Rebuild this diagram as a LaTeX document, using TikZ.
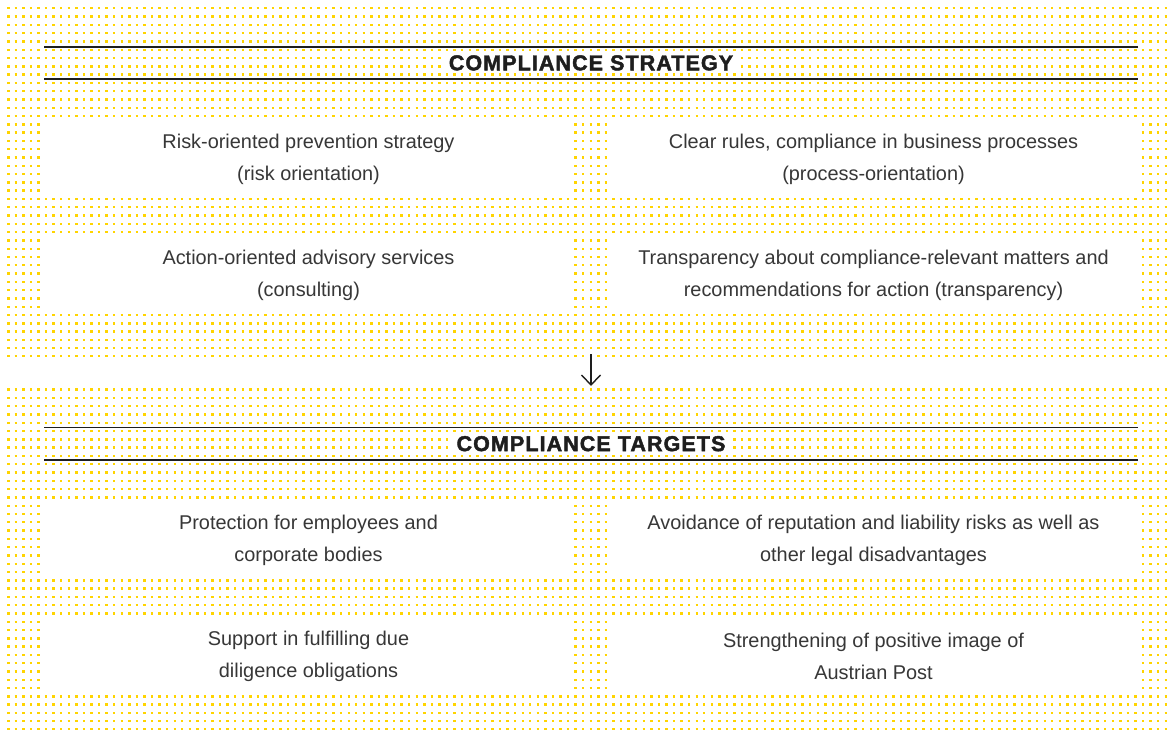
\documentclass[tikz,border=0pt]{standalone}
\usepackage{fontspec}
\setmainfont{Liberation Sans}
\newfontfamily\titlefont[FakeBold=2,LetterSpace=5]{Liberation Sans Bold}
\usetikzlibrary{arrows.meta}
\definecolor{dotyellow}{RGB}{255,212,0}
\definecolor{txt}{RGB}{55,55,55}
\definecolor{rulecol}{RGB}{30,30,30}
\tikzset{
  dotrow/.style={draw=dotyellow, line width=2.4pt, dash pattern=on 2.4pt off 5.165pt},
  cell/.style={fill=white, minimum width=529pt, minimum height=75pt, inner sep=0pt,
    align=center, text=txt, font=\fontsize{19.9}{32}\selectfont, yshift=-1.5pt},
  titlenode/.style={fill=white, inner xsep=4pt, inner ysep=1pt, text=rulecol,
    font=\titlefont\fontsize{21.5}{24}\selectfont},
  rule/.style={draw=rulecol, line width=1.8pt},
  arrowline/.style={draw=rulecol, line width=1.4pt, -{Straight Barb[length=10pt,width=19pt]}}
}
\begin{document}
\begin{tikzpicture}[x=1pt,y=-1pt]
\useasboundingbox (0,0) rectangle (1171,730);
% dotted backgrounds
\begin{scope}
  \clip (0,0) rectangle (1171,356);
  \foreach \j in {0,...,42} \draw[dotrow] (7.1,{8.3+\j*8.29}) -- (1168,{8.3+\j*8.29});
\end{scope}
\begin{scope}
  \clip (0,387) rectangle (1171,730);
  \foreach \j in {46,...,87} \draw[dotrow] (7.1,{8.3+\j*8.29}) -- (1168,{8.3+\j*8.29});
\end{scope}
% top panel
\draw[rule] (44,46.7) -- (1138,46.7);
\draw[rule] (44,79) -- (1138,79);
\node[titlenode] (t1) at (591,62.9) {COMPLIANCE STRATEGY};
\node[cell] (s1) at (308.5,157.5) {Risk-oriented prevention strategy\\(risk orientation)};
\node[cell] (s2) at (873.5,157.5) {Clear rules, compliance in business processes\\(process-orientation)};
\node[cell] (s3) at (308.5,273.5) {Action-oriented advisory services\\(consulting)};
\node[cell] (s4) at (873.5,273.5) {Transparency about compliance-relevant matters and\\recommendations for action (transparency)};
% arrow
\coordinate (pA) at (591,354);
\coordinate (pB) at (591,386);
\draw[arrowline] (pA) -- (pB);
% bottom panel
\draw[rule] (44,427.5) -- (1138,427.5);
\draw[rule] (44,460) -- (1138,460);
\node[titlenode] (t2) at (591,443.7) {COMPLIANCE TARGETS};
\node[cell] (g1) at (308.5,538.75) {Protection for employees and\\corporate bodies};
\node[cell] (g2) at (873.5,538.75) {Avoidance of reputation and liability risks as well as\\other legal disadvantages};
\node[cell] (g3) at (308.5,654.5) {Support in fulfilling due\\diligence obligations};
\node[cell] (g4) at (873.5,654.5) {Strengthening of positive image of\\Austrian Post};
\end{tikzpicture}
\end{document}
